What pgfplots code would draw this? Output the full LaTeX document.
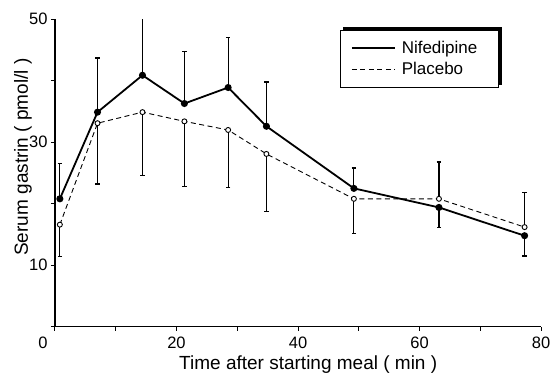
\documentclass[border=0pt]{standalone}
\usepackage{fontspec}
\setmainfont{Liberation Sans}
\usepackage{pgfplots}
\pgfplotsset{compat=1.18}
\begin{document}
\begin{tikzpicture}
\begin{axis}[
  scale only axis, width=486pt, height=307.4pt,
  xmin=0, xmax=80, ymin=0, ymax=50,
  axis x line*=bottom, axis y line*=left,
  axis line style={line width=1.3pt, -},
  xtick={0,10,...,80}, xticklabels={\makebox[0pt][r]{0\hspace{7.5pt}},,20,,40,,60,,80},
  ytick={0,10,...,50}, yticklabels={,10,,30,,50},
  tick align=outside, major tick length=4pt,
  tick style={line width=1pt, black},
  ticklabel style={font=\fontsize{16.5}{18}\selectfont},
  xticklabel style={yshift=-3pt},
  /pgf/number format/assume math mode=true,
  xlabel={Time after starting meal ( min )},
  ylabel={Serum gastrin ( pmol/l )},
  label style={font=\fontsize{19}{22}\selectfont},
  xlabel style={at={(axis description cs:0.521,-0.123)}, anchor=center},
  ylabel style={at={(axis description cs:-0.066,0.552)}, anchor=center},
  legend style={at={(axis description cs:0.588,0.965)}, anchor=north west,
    name=leg, draw=none, fill=white,
    font=\fontsize{17}{20}\selectfont,
    inner xsep=10pt, inner ysep=9pt, nodes={inner sep=2pt}, row sep=3pt},
  legend cell align=left,
  legend image code/.code={\draw[#1] (0pt,0pt) -- (43pt,0pt); \path (47pt,0pt);},
]
% error bars (drawn first)
\addplot[forget plot, only marks, mark=none, black,
  error bars/.cd, y dir=plus, y explicit,
  error bar style={line width=1.2pt, solid},
  error mark options={rotate=90, mark size=2.2pt, line width=1.2pt, solid}]
  table[x=x, y=y, y error=e] {
x y e
0.8 20.8 5.7
7 34.9 8.8
14.4 40.9 9.6
21.3 36.3 8.4
28.5 38.9 8.1
34.8 32.6 7.2
49.2 22.5 3.3
63.2 20.8 6.0
77.3 16.2 5.6
};
\addplot[forget plot, only marks, mark=none, black,
  error bars/.cd, y dir=minus, y explicit,
  error bar style={line width=1.2pt, solid},
  error mark options={rotate=90, mark size=2.2pt, line width=1.2pt, solid}]
  table[x=x, y=y, y error=e] {
x y e
63.2 19.4 3.3
77.3 14.8 3.3
0.8 16.6 5.2
7 33.1 9.9
14.4 34.9 10.3
21.3 33.4 10.6
28.5 32.0 9.4
34.8 28.1 9.4
49.2 20.8 5.6
};
\addplot[black, line width=1.8pt, mark=*, mark size=2.6pt, mark options={solid}]
  table {
x y
0.8 20.8
7 34.9
14.4 40.9
21.3 36.3
28.5 38.9
34.8 32.6
49.2 22.5
63.2 19.4
77.3 14.8
};
\addlegendentry{\makebox[85pt][l]{Nifedipine}}
\addplot[black, line width=0.9pt, dash pattern=on 5pt off 3.5pt, mark=*, mark size=2.5pt,
  mark options={solid, fill=white, line width=0.9pt}]
  table {
x y
0.8 16.6
7 33.1
14.4 34.9
21.3 33.4
28.5 32.0
34.8 28.1
49.2 20.8
63.2 20.8
77.3 16.2
};
\addlegendentry{\makebox[85pt][l]{Placebo}}
\end{axis}
\draw[line width=1pt] (leg.south west) rectangle (leg.north east);
\fill[black] ([xshift=2pt]leg.north west) rectangle ([xshift=3.5pt,yshift=3.5pt]leg.north east);
\fill[black] ([yshift=2pt]leg.south east) rectangle ([xshift=3.5pt,yshift=3.5pt]leg.north east);
\pgfresetboundingbox
\path (-55pt,-47.3pt) rectangle (498pt,326.7pt);
\end{tikzpicture}
\end{document}
